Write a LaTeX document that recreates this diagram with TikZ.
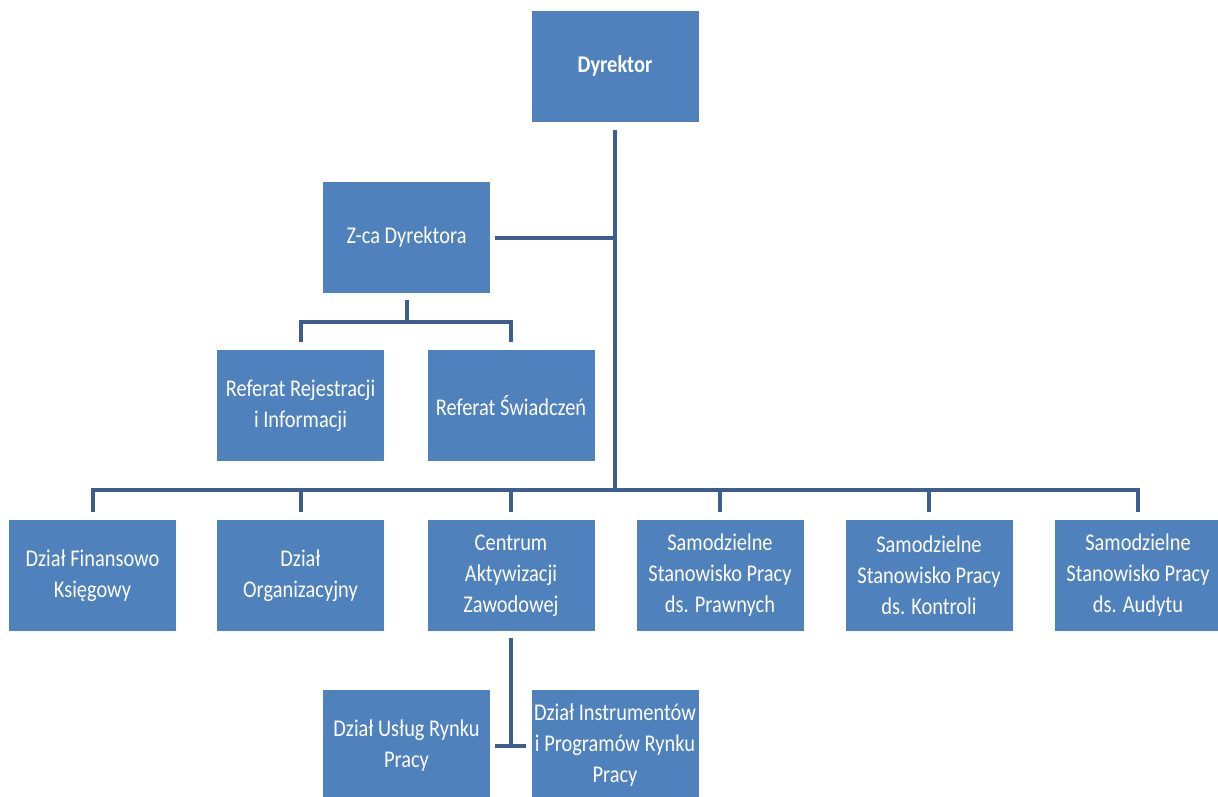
\documentclass[tikz,border=0pt]{standalone}
\usepackage{fontspec}
\setmainfont{Carlito}[FakeStretch=0.85]
\definecolor{boxblue}{HTML}{4F81BD}
\definecolor{lineblue}{HTML}{3D5D8E}
\begin{document}
\begin{tikzpicture}[x=1pt,y=-1pt,
  box/.style={fill=boxblue, minimum width=167pt, minimum height=111pt, inner sep=0pt,
    align=center, text=white, font=\fontsize{24}{31}\selectfont},
  conn/.style={draw=lineblue, line width=4pt}]
\useasboundingbox (0,0) rectangle (1218,796);
\clip (0,0) rectangle (1218,796);
\fill[white] (0,0) rectangle (1218,796);

% nodes
\node[box, font=\fontsize{24}{31}\selectfont\bfseries] (dyr) at (615,66) {Dyrektor};
\node[box] (zca) at (406.5,237.5) {Z-ca Dyrektora};
\node[box] (rr) at (300.5,405.5) {Referat Rejestracji\\i Informacji};
\node[box] (rs) at (511,405.5) {Referat Świadczeń};

\node[box] (f1) at (92.5,575.5) {Dział Finansowo\\Księgowy};
\node[box] (f2) at (300.5,575.5) {Dział\\Organizacyjny};
\node[box] (f3) at (511,575.5) {Centrum\\Aktywizacji\\Zawodowej};
\node[box] (f4) at (720,575.5) {Samodzielne\\Stanowisko Pracy\\ds. Prawnych};
\node[box] (f5) at (929,575.5) {Samodzielne\\Stanowisko Pracy\\ds. Kontroli};
\node[box] (f6) at (1138,575.5) {Samodzielne\\Stanowisko Pracy\\ds. Audytu};

\node[box] (dus) at (406.5,745.5) {Dział Usług Rynku\\Pracy};
\node[box] (dins) at (615,745.5) {Dział Instrumentów\\i Programów Rynku\\Pracy};

% coordinates of buses
\coordinate (mb) at (615,490);
\coordinate (zb) at (406.5,322);

% main trunk
\draw[conn] ([yshift=-8pt]dyr.south) -- (mb);
\draw[conn] ([xshift=5pt]zca.east) -- (zca.east -| mb);

% main bus
\draw[conn] ([yshift=8pt]f1.north) -- (f1.north |- mb) -- (f6.north |- mb) -- ([yshift=8pt]f6.north);
\draw[conn] ([yshift=8pt]f2.north) -- (f2.north |- mb);
\draw[conn] ([yshift=8pt]f3.north) -- (f3.north |- mb);
\draw[conn] ([yshift=8pt]f4.north) -- (f4.north |- mb);
\draw[conn] ([yshift=8pt]f5.north) -- (f5.north |- mb);

% Z-ca sub tree
\draw[conn] ([yshift=-7pt]zca.south) -- (zb);
\draw[conn] ([yshift=8pt]rr.north) -- (rr.north |- zb) -- (rs.north |- zb) -- ([yshift=8pt]rs.north);

% Centrum sub tree
\draw[conn] ([yshift=-7pt]f3.south) -- (f3.south |- dus.east);
\draw[conn] ([xshift=5pt]dus.east) -- ([xshift=-5pt]dins.west);
\end{tikzpicture}
\end{document}
